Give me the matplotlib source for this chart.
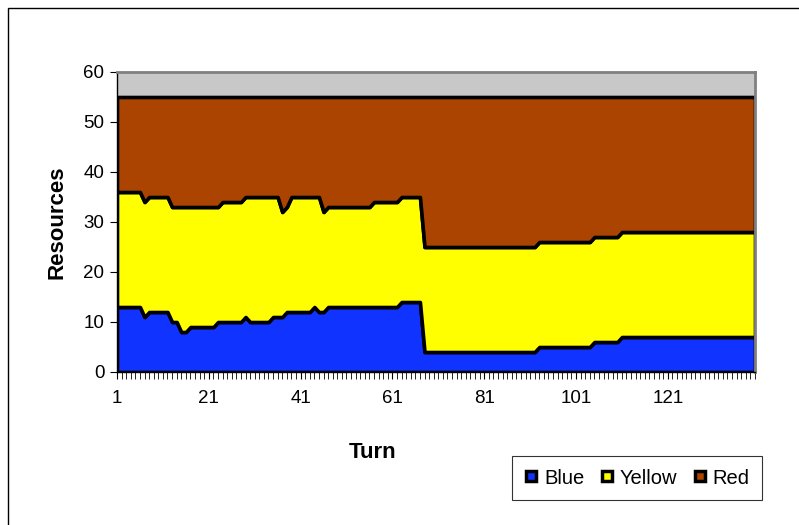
import matplotlib.pyplot as plt
import numpy as np
from matplotlib.lines import Line2D
from matplotlib.patches import Rectangle

plt.rcParams['font.family'] = ['Liberation Sans', 'DejaVu Sans']

turns = np.arange(1, 141)

blue = [13, 13, 13, 13, 13, 13, 11, 12, 12, 12, 12, 12, 10, 10, 8, 8, 9, 9, 9, 9,
        9, 9, 10, 10, 10, 10, 10, 10, 11, 10, 10, 10, 10, 10, 11, 11, 11, 12, 12, 12,
        12, 12, 12, 13, 12, 12, 13, 13, 13, 13, 13, 13, 13, 13, 13, 13, 13, 13, 13, 13,
        13, 13, 14, 14, 14, 14, 14, 4, 4, 4, 4, 4, 4, 4, 4, 4, 4, 4, 4, 4,
        4, 4, 4, 4, 4, 4, 4, 4, 4, 4, 4, 4, 5, 5, 5, 5, 5, 5, 5, 5,
        5, 5, 5, 5, 6, 6, 6, 6, 6, 6, 7, 7, 7, 7, 7, 7, 7, 7, 7, 7,
        7, 7, 7, 7, 7, 7, 7, 7, 7, 7, 7, 7, 7, 7, 7, 7, 7, 7, 7, 7]

yellow = [23, 23, 23, 23, 23, 23, 23, 23, 23, 23, 23, 23, 23, 23, 25, 25, 24, 24, 24, 24,
          24, 24, 23, 24, 24, 24, 24, 24, 24, 25, 25, 25, 25, 25, 24, 24, 21, 21, 23, 23,
          23, 23, 23, 22, 23, 20, 20, 20, 20, 20, 20, 20, 20, 20, 20, 20, 21, 21, 21, 21,
          21, 21, 21, 21, 21, 21, 21, 21, 21, 21, 21, 21, 21, 21, 21, 21, 21, 21, 21, 21,
          21, 21, 21, 21, 21, 21, 21, 21, 21, 21, 21, 21, 21, 21, 21, 21, 21, 21, 21, 21,
          21, 21, 21, 21, 21, 21, 21, 21, 21, 21, 21, 21, 21, 21, 21, 21, 21, 21, 21, 21,
          21, 21, 21, 21, 21, 21, 21, 21, 21, 21, 21, 21, 21, 21, 21, 21, 21, 21, 21, 21]

red = [19, 19, 19, 19, 19, 19, 21, 20, 20, 20, 20, 20, 22, 22, 22, 22, 22, 22, 22, 22,
       22, 22, 22, 21, 21, 21, 21, 21, 20, 20, 20, 20, 20, 20, 20, 20, 23, 22, 20, 20,
       20, 20, 20, 20, 20, 23, 22, 22, 22, 22, 22, 22, 22, 22, 22, 22, 21, 21, 21, 21,
       21, 21, 20, 20, 20, 20, 20, 30, 30, 30, 30, 30, 30, 30, 30, 30, 30, 30, 30, 30,
       30, 30, 30, 30, 30, 30, 30, 30, 30, 30, 30, 30, 29, 29, 29, 29, 29, 29, 29, 29,
       29, 29, 29, 29, 28, 28, 28, 28, 28, 28, 27, 27, 27, 27, 27, 27, 27, 27, 27, 27,
       27, 27, 27, 27, 27, 27, 27, 27, 27, 27, 27, 27, 27, 27, 27, 27, 27, 27, 27, 27]

series_names = ['Blue', 'Yellow', 'Red']
series_colors = ['#1133FF', '#FFFF00', '#AA4400']
x_tick_labels = ['1', '21', '41', '61', '81', '101', '121']

fig = plt.figure(figsize=(7.99, 5.25), dpi=100)
ax = fig.add_axes([117 / 799, 1 - 372 / 525, (755 - 117) / 799, 300 / 525])

# cadre du graphique (bord gauche et haut visibles)
fig.patches.append(Rectangle((8 / 799, -0.1), 1.2, 1 - 8 / 525 + 0.1,
                             transform=fig.transFigure, fill=False,
                             edgecolor='black', linewidth=1))

ax.set_facecolor('#C8C8C8')
ax.stackplot(turns, blue, yellow, red, colors=series_colors,
             edgecolor='black', linewidth=2.6)

ax.set_xlim(1, 140)
ax.set_ylim(0, 60)
ax.set_yticks(np.arange(0, 61, 10))
ax.set_xticks([int(v) for v in x_tick_labels])
ax.set_xticklabels(x_tick_labels)
ax.set_xticks(turns, minor=True)
ax.tick_params(axis='x', which='major', length=5, width=0.8, pad=8, labelsize=13.5)
ax.tick_params(axis='x', which='minor', length=5, width=0.6)
ax.tick_params(axis='y', length=5, width=0.8, labelsize=13.5, pad=4)

for side in ['top', 'right']:
    ax.spines[side].set_color('#808080')
    ax.spines[side].set_linewidth(2)
for side in ['left', 'bottom']:
    ax.spines[side].set_color('black')
    ax.spines[side].set_linewidth(1)

fig.text(57 / 799, 1 - 222 / 525, 'Resources', rotation=90, ha='center', va='center',
         fontsize=16, fontweight='bold')
fig.text(373 / 799, 1 - 453 / 525, 'Turn', ha='center', va='center',
         fontsize=16, fontweight='bold')

handles = [Line2D([], [], linestyle='none', marker='s', markersize=7,
                  markerfacecolor=c, markeredgecolor='black', markeredgewidth=2.5)
           for c in series_colors]
leg = fig.legend(handles, series_names, loc='center', ncol=3,
                 bbox_to_anchor=(637 / 799, 1 - 478 / 525), fontsize=14.5,
                 frameon=True, fancybox=False, edgecolor='black',
                 handlelength=0.7, handletextpad=0.3, columnspacing=0.75,
                 borderpad=0.6, borderaxespad=0)
leg.get_frame().set_linewidth(0.8)

fig.savefig('out.png', dpi=100)
